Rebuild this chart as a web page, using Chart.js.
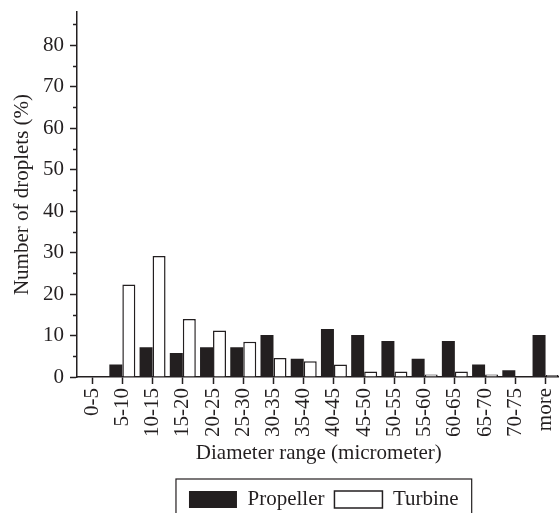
<!DOCTYPE html>
<html>
<head>
    <meta charset='utf-8'>
    <title>Droplet size distribution</title>
    <script src="https://cdn.jsdelivr.net/npm/chart.js@4.4.0/dist/chart.umd.min.js"></script>
    <style>
        body { margin: 0; overflow: hidden; background: #fff; }
        #wrap { width: 575px; height: 520px; }
    </style>
</head>
<body>
    <div id="wrap">
        <canvas id="chart" width="575" height="520"></canvas>
    </div>
    <script>
        var ranges = ['0-5', '5-10', '10-15', '15-20', '20-25', '25-30', '30-35', '35-40',
            '40-45', '45-50', '50-55', '55-60', '60-65', '65-70', '70-75', 'more'];
        var propeller = [0, 3, 7.2, 5.8, 7.2, 7.2, 10.1, 4.4, 11.6, 10.1, 8.7, 4.4, 8.7, 3, 1.6, 10.1];
        var turbine = [0, 22.3, 29.2, 14, 11.2, 8.5, 4.6, 3.8, 3, 1.3, 1.3, 0.6, 1.3, 0.6, 0, 0.5];
        var yMinorTicks = [5, 15, 25, 35, 45, 55, 65, 75, 85];

        var ink = '#231f20';
        var serif = '"Liberation Serif", "Times New Roman", serif';
        Chart.defaults.font.family = serif;
        Chart.defaults.font.size = 21;
        Chart.defaults.color = ink;

        // short ticks between the labelled ones, plus a frame round the legend
        var extras = {
            id: 'extras',
            afterLayout: function (chart) {
                // the legend row counts a trailing gap, nudge it back to centre
                chart.legend.left += 5;
                chart.legend.right += 5;
            },
            afterDraw: function (chart) {
                var ctx = chart.ctx;
                var y = chart.scales.y;
                var left = chart.chartArea.left;
                ctx.save();
                ctx.strokeStyle = ink;
                ctx.lineWidth = 1.5;
                yMinorTicks.forEach(function (v) {
                    var py = Math.round(y.getPixelForValue(v)) + 0.5;
                    ctx.beginPath();
                    ctx.moveTo(left - 4, py);
                    ctx.lineTo(left, py);
                    ctx.stroke();
                });
                var hb = chart.legend.legendHitBoxes;
                if (hb && hb.length) {
                    var l = Math.min.apply(null, hb.map(function (h) { return h.left; })) - 13;
                    var r = Math.max.apply(null, hb.map(function (h) { return h.left + h.width; })) + 13;
                    var t = hb[0].top - 10;
                    ctx.lineWidth = 1.2;
                    ctx.strokeRect(l, t, r - l, 60);
                }
                ctx.restore();
            }
        };

        var ctx = document.getElementById('chart').getContext('2d');
        var chart = new Chart(ctx, {
            type: 'bar',
            data: {
                labels: ranges,
                datasets: [
                    {
                        label: 'Propeller',
                        data: propeller,
                        backgroundColor: ink,
                        borderColor: ink,
                        borderWidth: 0,
                        barPercentage: 1,
                        categoryPercentage: 0.86
                    },
                    {
                        label: 'Turbine',
                        data: turbine,
                        backgroundColor: '#ffffff',
                        borderColor: ink,
                        borderWidth: 1.5,
                        barPercentage: 1,
                        categoryPercentage: 0.86
                    }
                ]
            },
            options: {
                responsive: false,
                animation: false,
                layout: { padding: { top: 12, right: 8, left: 0, bottom: 0 } },
                plugins: {
                    legend: {
                        position: 'bottom',
                        fullSize: false,
                        labels: {
                            boxWidth: 48,
                            boxHeight: 17,
                            padding: 10,
                            color: ink,
                            font: { size: 21 }
                        }
                    },
                    tooltip: { enabled: false }
                },
                scales: {
                    x: {
                        afterFit: function (scale) { scale.height = 102; },
                        grid: {
                            offset: false,
                            drawOnChartArea: false,
                            tickLength: 7,
                            tickColor: ink,
                            tickWidth: 1.5
                        },
                        border: { color: ink, width: 1.5 },
                        ticks: {
                            autoSkip: false,
                            maxRotation: 90,
                            minRotation: 90,
                            padding: 4,
                            color: ink
                        },
                        title: {
                            display: true,
                            text: 'Diameter range (micrometer)',
                            color: ink,
                            padding: { top: 0, bottom: 13 }
                        }
                    },
                    y: {
                        min: 0,
                        max: 88,
                        afterBuildTicks: function (scale) {
                            scale.ticks = scale.ticks.filter(function (t) { return t.value % 10 === 0; });
                        },
                        afterFit: function (scale) {
                            scale.width = 77;
                            scale.paddingTop = 0;
                        },
                        grid: {
                            drawOnChartArea: false,
                            tickLength: 7,
                            tickColor: ink,
                            tickWidth: 1.5
                        },
                        border: { color: ink, width: 1.5 },
                        ticks: { stepSize: 10, padding: 6, color: ink },
                        title: {
                            display: true,
                            text: 'Number of droplets (%)',
                            color: ink,
                            padding: { top: 10, bottom: 0 }
                        }
                    }
                }
            },
            plugins: [extras]
        });
    </script>
</body>
</html>
